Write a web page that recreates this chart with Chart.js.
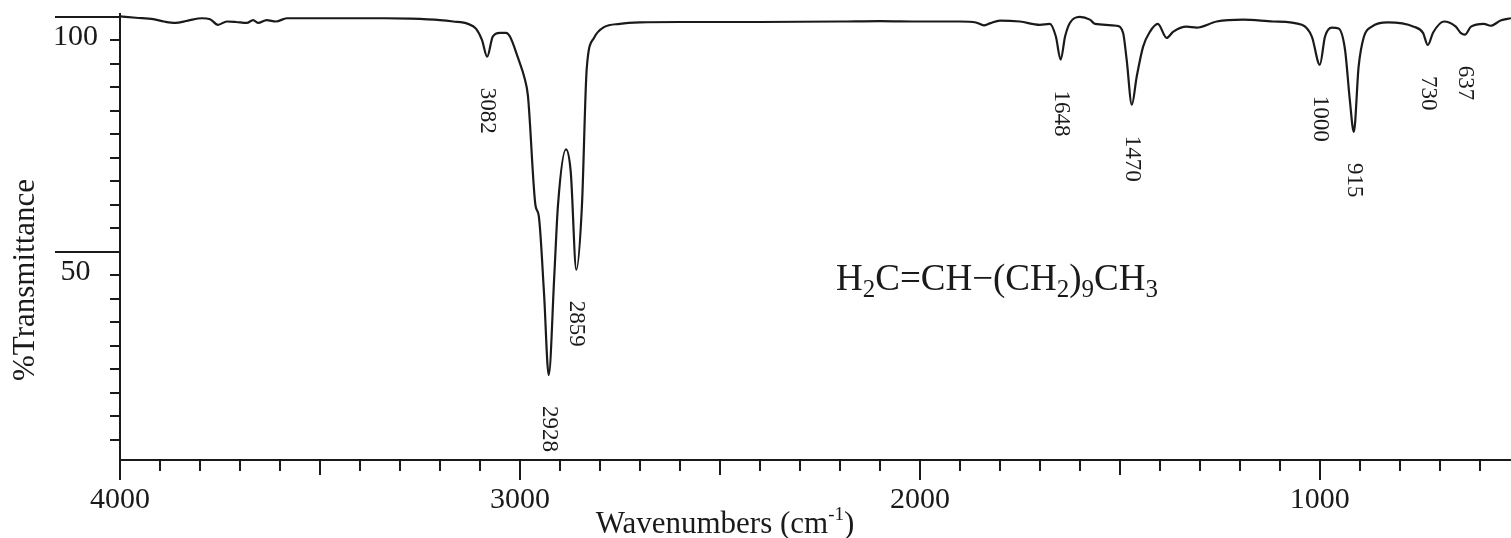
<!DOCTYPE html>
<html>
<head>
<meta charset="utf-8">
<script src="https://cdn.jsdelivr.net/npm/chart.js@4.4.1/dist/chart.umd.min.js"></script>
<style>
  body { margin: 0; background: #fff; }
  #wrap { width: 1511px; height: 538px; position: relative; }
</style>
</head>
<body>
<div id="wrap"><canvas id="graph"></canvas></div>
<script>
// spectrum (wavenumber, %T)
var wavenumbers = [4000, 3960, 3917, 3890, 3862, 3830, 3795, 3775, 3755, 3733, 3710, 3683, 3667, 3655, 3633, 3610, 3583,
    3500, 3417, 3340, 3275, 3200, 3167, 3130, 3110, 3095, 3082, 3068, 3050, 3035, 3025, 3005, 2988, 2980, 2961, 2953,
    2940, 2928, 2914, 2905, 2885, 2873, 2859, 2845, 2833, 2815, 2790, 2750, 2700, 2600, 2400, 2200, 2100, 2000, 1900,
    1860, 1840, 1825, 1800, 1750, 1700, 1675, 1660, 1648, 1637, 1625, 1600, 1575, 1562, 1508, 1492, 1483, 1470, 1458,
    1442, 1425, 1405, 1383, 1367, 1333, 1308, 1258, 1192, 1117, 1045, 1020, 1000, 987, 970, 953, 937, 925, 915, 903,
    890, 870, 830, 765, 742, 730, 717, 690, 660, 648, 637, 622, 590, 573, 548, 522];
var transmittance = [100.1, 99.8, 99.5, 99.0, 98.7, 99.2, 99.7, 99.5, 98.3, 99.0, 98.9, 98.7, 99.3, 98.7, 99.3, 99.0, 99.7,
    99.7, 99.7, 99.7, 99.6, 99.3, 99.0, 98.5, 97.5, 95.1, 91.5, 95.8, 96.6, 96.6, 95.8, 91.3, 86.8, 83.2, 59.8, 57.7,
    41.5, 23.8, 45.1, 59.8, 71.8, 67.0, 46.2, 59.8, 89.0, 95.5, 97.8, 98.5, 98.8, 98.9, 98.9, 99.0, 99.1, 99.0, 99.0,
    98.8, 98.2, 98.6, 99.2, 99.0, 98.3, 98.5, 95.8, 90.9, 95.8, 98.7, 100.0, 99.4, 98.5, 98.1, 96.6, 90.9, 81.3, 87.2,
    93.6, 96.8, 98.5, 95.5, 96.8, 97.9, 97.7, 99.0, 99.4, 99.0, 98.3, 95.8, 89.8, 95.8, 97.7, 97.5, 93.0, 82.3, 75.5, 89.4,
    95.7, 97.9, 98.8, 97.9, 96.6, 94.0, 96.6, 99.0, 97.9, 96.6, 96.2, 97.9, 98.5, 98.1, 99.2, 99.7];

// peak annotations
var peakWn = [3082, 2928, 2859, 1648, 1470, 1000, 915, 730, 637];
var peakText = ['3082', '2928', '2859', '1648', '1470', '1000', '915', '730', '637'];

// axis ticks
var xTicks = [];
for (var v = 600; v <= 4000; v += 100) xTicks.push(v);
var xLabels = [4000, 3000, 2000, 1000];
var yTicks = [10, 15, 20, 25, 30, 35, 40, 45, 50, 55, 60, 65, 70, 75, 80, 85, 90, 95, 100];
var yLabels = [100, 50];

var serif = '"Liberation Serif", "DejaVu Serif", serif';
var ink = '#1a1a1a';

var decor = {
    id: 'decor',
    afterDraw: function (chart) {
        var ctx = chart.ctx, x = chart.scales.x, y = chart.scales.y;
        ctx.save();
        ctx.strokeStyle = ink;
        ctx.lineWidth = 2;
        // tick marks, different lengths
        x.ticks.forEach(function (t) {
            var px = Math.round(x.getPixelForValue(t.value));
            var len = t.value % 1000 === 0 ? 20 : (t.value % 500 === 0 ? 15 : 11);
            ctx.beginPath(); ctx.moveTo(px, x.top); ctx.lineTo(px, x.top + len); ctx.stroke();
        });
        y.ticks.forEach(function (t) {
            var py = Math.round(y.getPixelForValue(t.value));
            var len = yLabels.indexOf(t.value) >= 0 ? 65 : 10;
            ctx.beginPath(); ctx.moveTo(y.right - len, py); ctx.lineTo(y.right, py); ctx.stroke();
        });

        ctx.fillStyle = ink;
        // peak labels, rotated, just under each minimum
        ctx.font = '23px ' + serif;
        ctx.textAlign = 'left';
        ctx.textBaseline = 'middle';
        peakWn.forEach(function (w, i) {
            var k = wavenumbers.indexOf(w);
            var px = x.getPixelForValue(w);
            var py = y.getPixelForValue(transmittance[k]) + 31;
            ctx.save();
            ctx.translate(px, py);
            ctx.rotate(Math.PI / 2);
            ctx.fillText(peakText[i], 0, 0);
            ctx.restore();
        });

        // formula
        var parts = [['H', 0], ['2', 1], ['C=CH\u2212(CH', 0], ['2', 1], [')', 0], ['9', 1], ['CH', 0], ['3', 1]];
        var fx = 836, fy = 290;
        ctx.textBaseline = 'alphabetic';
        parts.forEach(function (p) {
            ctx.font = (p[1] ? '25px ' : '37px ') + serif;
            ctx.fillText(p[0], fx, fy + (p[1] ? 7 : 0));
            fx += ctx.measureText(p[0]).width;
        });

        // axis titles
        ctx.font = '31px ' + serif;
        ctx.save();
        ctx.translate(34, 280);
        ctx.rotate(-Math.PI / 2);
        ctx.textAlign = 'center';
        ctx.fillText('%Transmittance', 0, 0);
        ctx.restore();

        var t1 = 'Wavenumbers (cm', t2 = '-1', t3 = ')';
        ctx.font = '31px ' + serif;
        var w1 = ctx.measureText(t1).width, w3 = ctx.measureText(t3).width;
        ctx.font = '19px ' + serif;
        var w2 = ctx.measureText(t2).width;
        var tx = 725 - (w1 + w2 + w3) / 2, ty = 533;
        ctx.font = '31px ' + serif;
        ctx.fillText(t1, tx, ty);
        ctx.font = '19px ' + serif;
        ctx.fillText(t2, tx + w1, ty - 13);
        ctx.font = '31px ' + serif;
        ctx.fillText(t3, tx + w1 + w2, ty);
        ctx.restore();
    }
};

function noPad(s) {
    s.paddingTop = 0; s.paddingBottom = 0; s.paddingLeft = 0; s.paddingRight = 0;
}

new Chart(document.getElementById('graph'), {
    type: 'line',
    data: {
        datasets: [{
            data: wavenumbers.map(function (w, i) { return { x: w, y: transmittance[i] }; }),
            borderColor: ink,
            borderWidth: 2.2,
            pointRadius: 0,
            fill: false,
            cubicInterpolationMode: 'monotone'
        }]
    },
    options: {
        responsive: true,
        maintainAspectRatio: false,
        animation: false,
        layout: { padding: { top: 14, left: 0, right: 0, bottom: 0 } },
        plugins: { legend: { display: false }, tooltip: { enabled: false } },
        scales: {
            x: {
                type: 'linear',
                reverse: true,
                min: 522,
                max: 4000,
                afterBuildTicks: function (s) { s.ticks = xTicks.map(function (v) { return { value: v }; }); },
                afterFit: function (s) { s.height = 78; noPad(s); },
                grid: { display: false, drawTicks: false },
                border: { display: true, color: ink, width: 2 },
                ticks: {
                    autoSkip: false,
                    maxRotation: 0,
                    padding: 22,
                    color: ink,
                    font: { family: serif, size: 30 },
                    callback: function (v) { return xLabels.indexOf(v) >= 0 ? String(v) : ''; }
                }
            },
            y: {
                min: 5.7,
                max: 100.6,
                afterBuildTicks: function (s) { s.ticks = yTicks.map(function (v) { return { value: v }; }); },
                afterFit: function (s) { s.width = 120; noPad(s); },
                grid: { display: false, drawTicks: false },
                border: { display: true, color: ink, width: 2 },
                ticks: {
                    autoSkip: false,
                    crossAlign: 'center',
                    padding: 22,
                    labelOffset: 20,
                    color: ink,
                    font: { family: serif, size: 30 },
                    callback: function (v) { return yLabels.indexOf(v) >= 0 ? String(v) : ''; }
                }
            }
        }
    },
    plugins: [decor]
});
</script>
</body>
</html>
